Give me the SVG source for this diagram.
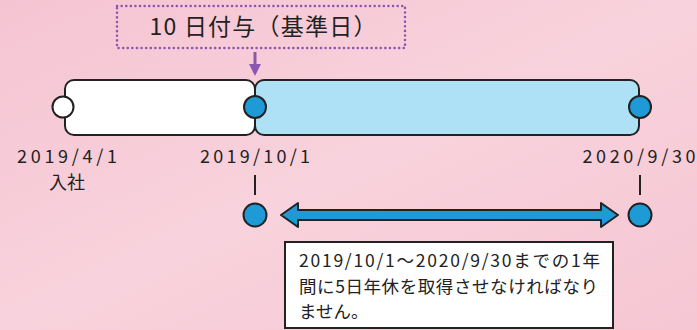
<svg xmlns="http://www.w3.org/2000/svg" width="697" height="330" viewBox="0 0 697 330">
<defs>
<linearGradient id="bg" x1="0" y1="0" x2="1" y2="1">
<stop offset="0" stop-color="#f5c4d2"/>
<stop offset="0.5" stop-color="#f8d2dc"/>
<stop offset="1" stop-color="#f5c6d3"/>
</linearGradient>
<marker id="pa" markerWidth="4" markerHeight="4" refX="2" refY="2" orient="auto" markerUnits="strokeWidth"><path d="M0,0 L4,2 L0,4 Z" fill="#8a57b0"/></marker>
</defs>
<style>
.t{font-family:"Noto Sans CJK JP","Noto Sans",sans-serif;fill:#222;}
.lbl{font-size:18px;text-anchor:middle;}
.bar{stroke:#222;stroke-width:2;}
.dot{fill:#1e9ad6;stroke:#222;stroke-width:2;}
.tick{stroke:#222;stroke-width:2;}
</style>
<rect width="697" height="330" fill="url(#bg)"/>
<g id="base-date">
<rect x="117" y="6" width="288" height="42" fill="none" stroke="#8a57b0" stroke-width="2.5" stroke-dasharray="0.1 4.5" stroke-linecap="round"/>
<text class="t" x="263" y="35" font-size="23" text-anchor="middle" textLength="227" lengthAdjust="spacing">10 日付与（基準日）</text>
</g>
<g id="connectors">
<line x1="255" y1="52" x2="255" y2="70" stroke="#8a57b0" stroke-width="3" marker-end="url(#pa)"/>
<line class="tick" x1="255" y1="175" x2="255" y2="195"/>
<line class="tick" x1="640" y1="175" x2="640" y2="195"/>
<path d="M281,215 L298,203 L298,210 L601,210 L601,203 L618,215 L601,227 L601,220 L298,220 L298,227 Z" fill="#1e9ad6" stroke="#222" stroke-width="2" stroke-linejoin="round"/>
</g>
<g id="period-before">
<rect class="bar" x="65" y="80" width="190" height="55" rx="9" fill="#fff"/>
<circle cx="63" cy="107" r="10.5" fill="#fff" stroke="#222" stroke-width="2"/>
</g>
<g id="period-after">
<rect class="bar" x="255" y="80" width="384" height="55" rx="9" fill="#aee0f6"/>
<circle class="dot" cx="255" cy="107" r="11"/>
<circle class="dot" cx="640" cy="107" r="11"/>
</g>
<g id="label-join">
<text class="t lbl" x="67" y="163" textLength="100" lengthAdjust="spacing">2019/4/1</text>
<text class="t" x="67" y="189" font-size="18" text-anchor="middle">入社</text>
</g>
<g id="label-start">
<text class="t lbl" x="255" y="163" textLength="110" lengthAdjust="spacing">2019/10/1</text>
<circle class="dot" cx="255" cy="215" r="11.5"/>
</g>
<g id="label-end">
<text class="t lbl" x="639" y="163" textLength="113" lengthAdjust="spacing">2020/9/30</text>
<circle class="dot" cx="640" cy="215" r="11.5"/>
</g>
<g id="note">
<rect x="285" y="242" width="328" height="86" fill="#fff" stroke="#222" stroke-width="2"/>
<text class="t" font-size="17.5"><tspan x="299" y="267" textLength="301" lengthAdjust="spacing">2019/10/1～2020/9/30までの1年</tspan><tspan x="299" y="293" textLength="299" lengthAdjust="spacing">間に5日年休を取得させなければなり</tspan><tspan x="299" y="318">ません。</tspan></text>
</g>
</svg>
